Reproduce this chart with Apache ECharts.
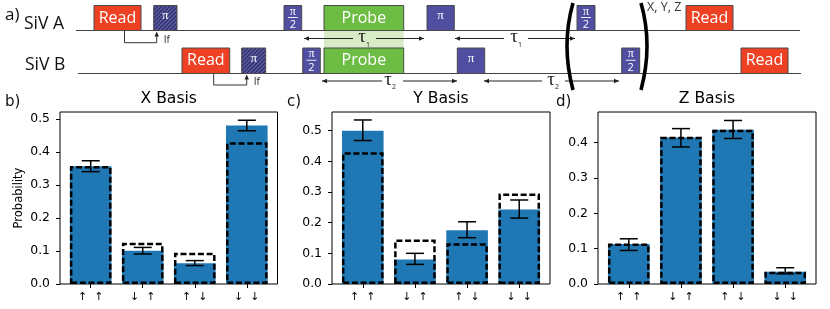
<!DOCTYPE html>
<html><head><meta charset="utf-8">
<style>html,body{margin:0;padding:0;background:#fff}#c{width:830px;height:309px}</style>
<script src="https://cdn.jsdelivr.net/npm/echarts@6/dist/echarts.min.js"></script>
</head><body><div id="c"></div>
<script>
const categories = ['↑  ↑','↓  ↑','↑  ↓','↓  ↓'];
const xTitle='X Basis', yTitle='Y Basis', zTitle='Z Basis';
const xBars=[0.357,0.101,0.063,0.481], xDashed=[0.358,0.125,0.095,0.430];
const xErrLow=[0.341,0.091,0.056,0.465], xErrHigh=[0.374,0.111,0.071,0.497];
const yBars=[0.500,0.080,0.175,0.243], yDashed=[0.430,0.145,0.133,0.295];
const yErrLow=[0.468,0.064,0.151,0.215], yErrHigh=[0.535,0.100,0.203,0.274];
const zBars=[0.113,0.415,0.437,0.035], zDashed=[0.115,0.417,0.437,0.035];
const zErrLow=[0.095,0.388,0.412,0.029], zErrHigh=[0.128,0.440,0.463,0.046];
const xTicks=[0,0.1,0.2,0.3,0.4,0.5], yTicks=[0,0.1,0.2,0.3,0.4,0.5], zTicks=[0,0.1,0.2,0.3,0.4];
// pulse sequence: [start, end, label]
const pulsesA=[[94,141,'Read'],[153.7,177,'pih'],[284,301.7,'pi2'],[324,403.7,'Probe'],[427,454.3,'pi'],[577,595,'pi2'],[686,733,'Read']];
const pulsesB=[[182,229.7,'Read'],[241.7,265.7,'pih'],[302.7,320.3,'pi2'],[324,403.7,'Probe'],[457.3,484.7,'pi'],[621.7,639.7,'pi2'],[741,788,'Read']];
// delays: [arrow start, gap start, label x, gap end, arrow end, label]
const delaysA=[[304,353,362,376,424,'1'],[455,504,514,528,575,'1']];
const delaysB=[[322,382,388,403,457,'2'],[484,542,551,565,619,'2']];
const feedA=[124.5,156.7], feedB=[213.7,246.7];

const ROW={A:{top:5.5,base:30.5,span:[76,800],delayY:38.5,feedY:42.7,feedTip:31.5},
           B:{top:48,base:73.5,span:[78,801],delayY:81,feedY:85,feedTip:74.5}};
const SANS='"Open Sans","Noto Sans",sans-serif', SERIF='"Liberation Serif",serif', DJ='"DejaVu Sans",sans-serif';
const FILL={Read:'#ee4124',Probe:'#6dbd45',pi:'#4f4ea1',pi2:'#4f4ea1'};

const tile=document.createElement('canvas');tile.width=tile.height=4;
(function(){const g=tile.getContext('2d');g.fillStyle='#5a59a8';g.fillRect(0,0,4,4);g.strokeStyle='#2b2b55';g.lineWidth=1.1;
 g.beginPath();g.moveTo(-1,5);g.lineTo(5,-1);g.moveTo(-1,1);g.lineTo(1,-1);g.moveTo(3,5);g.lineTo(5,3);g.stroke();})();

function pulseItem(params,api,row){
  const r=ROW[row],s=api.value(0),e=api.value(1),kind=(row==='A'?pulsesA:pulsesB)[params.dataIndex][2];
  const p0=api.coord([s,r.top]),p1=api.coord([e,r.base]);
  const cx=(p0[0]+p1[0])/2,h=p1[1]-p0[1];
  const ch=[{type:'rect',shape:{x:p0[0],y:p0[1],width:p1[0]-p0[0],height:h},
    style:{fill:kind==='pih'?{image:tile,repeat:'repeat'}:FILL[kind],stroke:'#4a4a4a',lineWidth:1}}];
  const t=(text,x,y,font)=>({type:'text',style:{text,x,y,fill:'#fff',font,align:'center',verticalAlign:'middle'}});
  if(kind==='Read'||kind==='Probe') ch.push(t(kind,cx,p0[1]+h/2,'16px '+SANS));
  if(kind==='pi'||kind==='pih') ch.push(t('π',cx,p0[1]+h/2-2,'13px '+SERIF));
  if(kind==='pi2'){
    ch.push(t('π',cx,p0[1]+6,'12px '+SERIF));
    ch.push(t('2',cx,p1[1]-6,'11px '+SANS));
    ch.push({type:'line',shape:{x1:cx-5,y1:p0[1]+h/2-0.5,x2:cx+5,y2:p0[1]+h/2-0.5},style:{stroke:'#fff',lineWidth:0.9}});
  }
  return {type:'group',children:ch};
}
function head(x,y,dx,dy){ // small filled arrow head
  const L=5,W=2.2;
  return {type:'polygon',shape:{points:[[x,y],[x-dx*L-dy*W,y-dy*L-dx*W],[x-dx*L+dy*W,y-dy*L+dx*W]]},style:{fill:'#222'}};
}
function delayItem(params,api,row){
  const y=api.coord([0,ROW[row].delayY])[1];
  const d=(row==='A'?delaysA:delaysB)[params.dataIndex];
  const X=i=>api.coord([api.value(i),0])[0];
  const a=X(0),b=X(1),c=X(2),e=X(3),f=X(4);
  const st={stroke:'#222',lineWidth:1};
  return {type:'group',children:[
    {type:'line',shape:{x1:a,y1:y,x2:b,y2:y},style:st},
    {type:'line',shape:{x1:e,y1:y,x2:f,y2:y},style:st},
    head(a,y,-1,0),head(f,y,1,0),
    {type:'text',style:{text:'τ',x:c,y:y-1,font:'19px '+SERIF,fill:'#222',align:'center',verticalAlign:'middle'}},
    {type:'text',style:{text:d[5],x:c+6,y:y+6,font:'7px '+SANS,fill:'#222',align:'center',verticalAlign:'middle'}}
  ]};
}
function feedItem(api,row){
  const r=ROW[row],a=api.value(0),b=api.value(1);
  const p=api.coord([a,r.base]),q=api.coord([a,r.feedY]),s=api.coord([b,r.feedY]),u=api.coord([b,r.feedTip]);
  return {type:'group',children:[
    {type:'polyline',shape:{points:[p,q,s,[u[0],u[1]+3]]},style:{stroke:'#333',lineWidth:1,fill:null}},
    head(u[0],u[1],0,-1),
    {type:'text',style:{text:'If',x:u[0]+7,y:q[1]-3,font:'10px '+SANS,fill:'#222',verticalAlign:'middle'}}
  ]};
}
// brackets of the basis rotation
const parenL=[573,3,561,45,573,90], parenR=[641,3,653,45,641,90];
function parenItem(params,api){
  const v=[0,1,2,3,4,5].map(i=>api.value(i));
  const a=api.coord([v[0],v[1]]),c=api.coord([v[2],v[3]]),b=api.coord([v[4],v[5]]);
  return {type:'bezierCurve',shape:{x1:a[0],y1:a[1],x2:b[0],y2:b[1],cpx1:c[0],cpy1:c[1]},style:{stroke:'#000',lineWidth:3.6,fill:null}};
}
function errItem(params,api){
  const x=api.value(0),lo=api.coord([x,api.value(1)]),hi=api.coord([x,api.value(2)]),cap=9;
  const st={stroke:'#000',lineWidth:1.5};
  return {type:'group',children:[
    {type:'line',shape:{x1:lo[0],y1:lo[1],x2:hi[0],y2:hi[1]},style:st},
    {type:'line',shape:{x1:lo[0]-cap,y1:lo[1],x2:lo[0]+cap,y2:lo[1]},style:st},
    {type:'line',shape:{x1:hi[0]-cap,y1:hi[1],x2:hi[0]+cap,y2:hi[1]},style:st}
  ]};
}
const panels=[
 {l:60,r:277.5,ymax:0.522,ticks:xTicks,bars:xBars,dash:xDashed,lo:xErrLow,hi:xErrHigh,title:xTitle},
 {l:332,r:550,ymax:0.561,ticks:yTicks,bars:yBars,dash:yDashed,lo:yErrLow,hi:yErrHigh,title:yTitle},
 {l:598,r:816,ymax:0.487,ticks:zTicks,bars:zBars,dash:zDashed,lo:zErrLow,hi:zErrHigh,title:zTitle}
];
const grid=[],xAxis=[],yAxis=[],series=[],title=[];
panels.forEach((p,i)=>{
  grid.push({left:p.l,top:112,width:p.r-p.l,height:172,show:true,borderColor:'#000',borderWidth:1,backgroundColor:'transparent'});
  xAxis.push({type:'value',gridIndex:i,min:-0.59,max:3.59,splitLine:{show:false},
    axisLine:{show:false,onZero:false},axisTick:{show:true,length:4,customValues:[0,1,2,3],lineStyle:{color:'#000',width:1}},
    axisLabel:{customValues:[0,1,2,3],formatter:v=>categories[v],fontFamily:'"DejaVu Sans"',fontSize:11,color:'#000',margin:8}});
  yAxis.push({type:'value',gridIndex:i,min:0,max:p.ymax,splitLine:{show:false},
    name:i===0?'Probability':'',nameLocation:'middle',nameGap:35,nameTextStyle:{fontFamily:'"DejaVu Sans"',fontSize:11.5,color:'#000'},
    axisLine:{show:false,onZero:false},axisTick:{show:true,length:4,customValues:p.ticks,lineStyle:{color:'#000',width:1}},
    axisLabel:{customValues:p.ticks,formatter:v=>v.toFixed(1),fontFamily:'"DejaVu Sans"',fontSize:12.4,color:'#000',margin:10,padding:[2,0,0,0]}});
  series.push({type:'bar',xAxisIndex:i,yAxisIndex:i,barWidth:41.6,barGap:'-100%',data:p.bars.map((v,k)=>[k,v]),itemStyle:{color:'#1f77b4'},z:2,silent:true});
  series.push({type:'bar',xAxisIndex:i,yAxisIndex:i,barWidth:41.6,barGap:'-100%',data:p.dash.map((v,k)=>[k,v]),
    itemStyle:{color:'rgba(0,0,0,0)',borderColor:'#000',borderWidth:2.5,borderType:[6,2.7]},z:3,silent:true});
  series.push({type:'custom',xAxisIndex:i,yAxisIndex:i,renderItem:errItem,data:p.lo.map((v,k)=>[k,v,p.hi[k]]),z:4,silent:true,clip:false});
  title.push({text:p.title,left:(p.l+p.r)/2-5,top:86,textAlign:'center',textStyle:{fontFamily:'"DejaVu Sans"',fontWeight:'normal',fontSize:15.6,color:'#000'}});
});
// schematic layer: a hidden full-canvas grid
const S=panels.length;
grid.push({left:0,top:0,width:830,height:309,show:false});
xAxis.push({type:'value',gridIndex:S,min:0,max:830,show:false});
yAxis.push({type:'value',gridIndex:S,min:0,max:309,inverse:true,show:false});
const sch=(o)=>Object.assign({type:'custom',xAxisIndex:S,yAxisIndex:S,clip:false,silent:true,z:5},o);
const shade=sch({z:1,data:[[324,403.7]],renderItem:(p,api)=>{
  const a=api.coord([api.value(0),ROW.A.base]),b=api.coord([api.value(1),ROW.B.top]);
  return {type:'rect',shape:{x:a[0],y:a[1],width:b[0]-a[0],height:b[1]-a[1]},style:{fill:'#d6ebc6'}};
}});
const base=sch({z:2,data:[['A'],['B']].map(r=>[ROW[r[0]].span[0],ROW[r[0]].span[1],ROW[r[0]].base]),renderItem:(p,api)=>{
  const a=api.coord([api.value(0),api.value(2)]),b=api.coord([api.value(1),api.value(2)]);
  return {type:'line',shape:{x1:a[0],y1:a[1],x2:b[0],y2:b[1]},style:{stroke:'#444',lineWidth:1.2}};
}});
series.push(shade,base,
  sch({data:pulsesA.map(d=>d.slice(0,2)),renderItem:(p,a)=>pulseItem(p,a,'A')}),
  sch({data:pulsesB.map(d=>d.slice(0,2)),renderItem:(p,a)=>pulseItem(p,a,'B')}),
  sch({data:delaysA.map(d=>d.slice(0,5)),renderItem:(p,a)=>delayItem(p,a,'A')}),
  sch({data:delaysB.map(d=>d.slice(0,5)),renderItem:(p,a)=>delayItem(p,a,'B')}),
  sch({data:[feedA],renderItem:(p,a)=>feedItem(a,'A')}),
  sch({data:[feedB],renderItem:(p,a)=>feedItem(a,'B')}),
  sch({z:6,data:[parenL,parenR],renderItem:parenItem})
);
const label=(text,x,y,font,fill)=>({type:'text',x,y,style:{text,font,fill:fill||'#111',textVerticalAlign:'middle'},silent:true});
const graphic=[
  label('a)',5,15,'17px '+SANS),label('SiV A',24,24,'17.5px '+SANS),label('SiV B',25,65,'17.5px '+SANS),
  label('b)',5,102,'15px '+DJ),label('c)',287,102,'15px '+DJ),label('d)',556,102,'15px '+DJ),
  label('X, Y, Z',647,7,'12.5px '+SANS,'#333')
];
const chart=echarts.init(document.getElementById('c'),null,{renderer:'canvas'});
chart.setOption({animation:false,backgroundColor:'#fff',title,grid,xAxis,yAxis,series,graphic});
</script></body></html>
